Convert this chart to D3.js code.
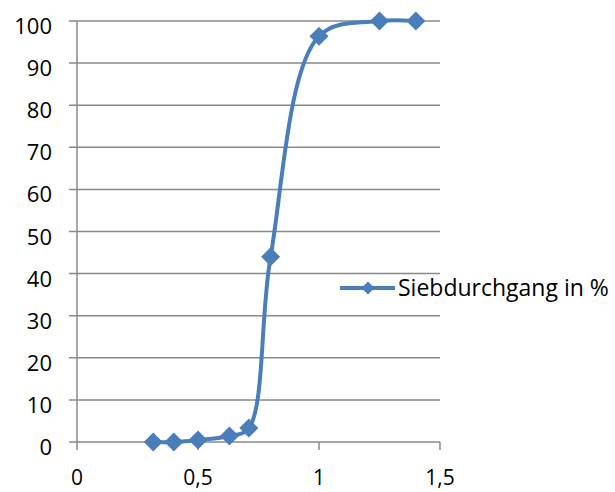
<!DOCTYPE html>
<html>
<head>
<meta charset="utf-8">
<script src="https://cdn.jsdelivr.net/npm/d3@7"></script>
<style>
  body { margin: 0; background: #fff; }
  svg { display: block; }
</style>
</head>
<body>
<main></main>
<script>
// Sieve data.
const sizes = [0.315, 0.4, 0.5, 0.63, 0.71, 0.8, 1.0, 1.25, 1.4];
const passing = [0, 0, 0.5, 1.4, 3.3, 44, 96.4, 100, 100];
const xTicks = [0, 0.5, 1, 1.5];
const yTicks = [0, 10, 20, 30, 40, 50, 60, 70, 80, 90, 100];
const seriesName = "Siebdurchgang in %";

const width = 615, height = 492;
const font = "'Open Sans', sans-serif";
const blue = "#4a7ebb";
const grey = "#898989";

const x = d3.scaleLinear().domain([0, 1.5]).range([77, 440]);
const y = d3.scaleLinear().domain([0, 100]).range([442, 21]);

const svg = d3
  .create("svg")
  .attr("width", width)
  .attr("height", height)
  .style("background", "white");

// Horizontal gridlines with their small outward ticks.
svg
  .append("g")
  .selectAll("line")
  .data(yTicks)
  .join("line")
  .attr("x1", x(0) - 8)
  .attr("x2", x(1.5))
  .attr("y1", (d) => y(d))
  .attr("y2", (d) => y(d))
  .attr("stroke", grey)
  .attr("stroke-width", 1.5);

// Y axis line.
svg
  .append("line")
  .attr("x1", x(0))
  .attr("x2", x(0))
  .attr("y1", y(100))
  .attr("y2", y(0) + 8)
  .attr("stroke", grey)
  .attr("stroke-width", 1.5);

// X ticks below the baseline.
svg
  .append("g")
  .selectAll("line")
  .data(xTicks.slice(1))
  .join("line")
  .attr("x1", (d) => x(d))
  .attr("x2", (d) => x(d))
  .attr("y1", y(0))
  .attr("y2", y(0) + 8)
  .attr("stroke", grey)
  .attr("stroke-width", 1.5);

const fmt = (d) => String(d).replace(".", ",");

svg
  .append("g")
  .selectAll("text")
  .data(yTicks)
  .join("text")
  .attr("x", 52)
  .attr("y", (d) => y(d) + 13)
  .attr("text-anchor", "end")
  .attr("font-family", font)
  .attr("font-size", 22)
  .attr("fill", "#000")
  .text(fmt);

svg
  .append("g")
  .selectAll("text")
  .data(xTicks)
  .join("text")
  .attr("x", (d) => x(d))
  .attr("y", 485)
  .attr("text-anchor", "middle")
  .attr("font-family", font)
  .attr("font-size", 21)
  .attr("fill", "#000")
  .text(fmt);

// Smoothed series line, like the spreadsheet's smoothed scatter.
const points = sizes.map((s, i) => [s, passing[i]]);
const line = d3
  .line()
  .x((d) => x(d[0]))
  .y((d) => y(d[1]))
  .curve(d3.curveCatmullRom.alpha(0.5));

svg
  .append("path")
  .datum(points)
  .attr("d", line)
  .attr("fill", "none")
  .attr("stroke", blue)
  .attr("stroke-width", 4);

const diamond = d3.symbol().type(d3.symbolDiamond2).size(230);

svg
  .append("g")
  .selectAll("path")
  .data(points)
  .join("path")
  .attr("d", diamond)
  .attr("transform", (d) => "translate(" + x(d[0]) + "," + y(d[1]) + ")")
  .attr("fill", blue);

// Legend.
const legend = svg.append("g").attr("transform", "translate(340,288)");
legend
  .append("line")
  .attr("x1", 0)
  .attr("x2", 55)
  .attr("stroke", blue)
  .attr("stroke-width", 4);
legend
  .append("path")
  .attr("d", d3.symbol().type(d3.symbolDiamond2).size(110))
  .attr("transform", "translate(28,0)")
  .attr("fill", blue);
legend
  .append("text")
  .attr("x", 58)
  .attr("y", 8)
  .attr("font-family", font)
  .attr("font-size", 23)
  .attr("fill", "#000")
  .text(seriesName);

document.querySelector("main").append(svg.node());
</script>
</body>
</html>
